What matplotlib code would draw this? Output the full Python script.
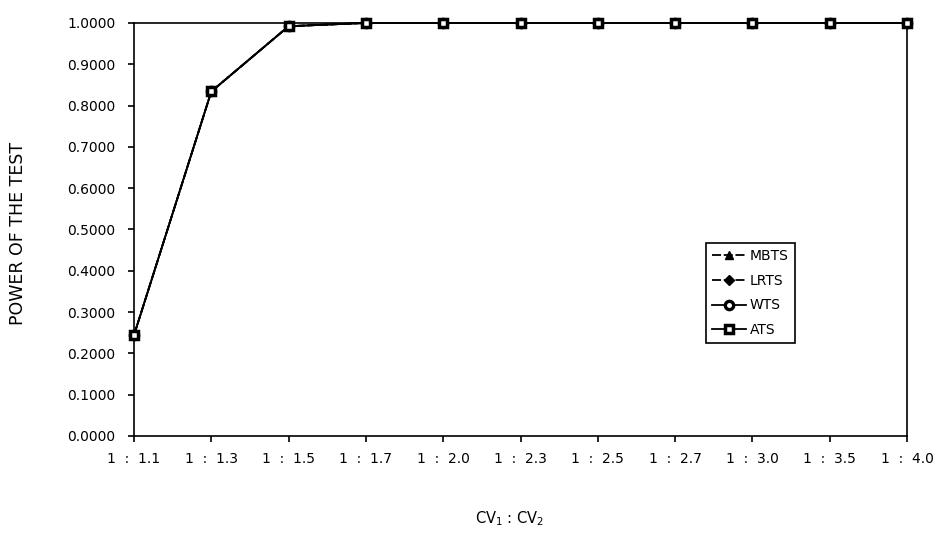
import matplotlib
matplotlib.use("Agg")
import matplotlib.pyplot as plt

plt.rcParams['font.family'] = ['DejaVu Sans']

ratios = ["1  :  1.1", "1  :  1.3", "1  :  1.5", "1  :  1.7", "1  :  2.0", "1  :  2.3",
          "1  :  2.5", "1  :  2.7", "1  :  3.0", "1  :  3.5", "1  :  4.0"]
mbts = [0.2440, 0.8340, 0.9920, 1.0000, 1.0000, 1.0000, 1.0000, 1.0000, 1.0000, 1.0000, 1.0000]
lrts = [0.2440, 0.8340, 0.9920, 1.0000, 1.0000, 1.0000, 1.0000, 1.0000, 1.0000, 1.0000, 1.0000]
wts = [0.2440, 0.8340, 0.9920, 1.0000, 1.0000, 1.0000, 1.0000, 1.0000, 1.0000, 1.0000, 1.0000]
ats = [0.2440, 0.8340, 0.9920, 1.0000, 1.0000, 1.0000, 1.0000, 1.0000, 1.0000, 1.0000, 1.0000]
yticks = [0.0, 0.1, 0.2, 0.3, 0.4, 0.5, 0.6, 0.7, 0.8, 0.9, 1.0]

fig = plt.figure(figsize=(9.41, 5.46), dpi=100)
ax = fig.add_axes([0.1424, 0.2015, 0.8215, 0.7565])

x = list(range(len(ratios)))
ax.plot(x, mbts, color='black', lw=1.3, ls=(0, (5, 1.5)), marker='^', ms=6,
        mfc='black', mec='black', label='MBTS', zorder=3, clip_on=False)
ax.plot(x, lrts, color='black', lw=1.3, ls=(0, (5, 1.5)), marker='D', ms=5,
        mfc='black', mec='black', label='LRTS', zorder=4, clip_on=False)
ax.plot(x, wts, color='black', lw=1.3, marker='o', ms=6,
        mfc='white', mec='black', mew=2.4, label='WTS', zorder=5, clip_on=False)
ax.plot(x, ats, color='black', lw=1.3, marker='s', ms=6,
        mfc='white', mec='black', mew=2.5, label='ATS', zorder=6, clip_on=False)

ax.set_xlim(0, len(ratios) - 1)
ax.set_ylim(0, 1.0)
ax.set_xticks(x)
ax.set_xticklabels(ratios, fontsize=10)
ax.set_yticks(yticks)
ax.set_yticklabels([f"{v:.4f}" for v in yticks], fontsize=10)
ax.tick_params(axis='x', direction='out', length=4, width=1.2, pad=7.5)
ax.tick_params(axis='y', direction='out', length=4, width=1.2, pad=9.5)

for s in ax.spines.values():
    s.set_color('black')
    s.set_linewidth(1.2)

fig.text(18 / 941, 1 - 233 / 546, "POWER OF THE TEST", fontsize=12.5,
         rotation=90, ha='center', va='center')
fig.text(510 / 941, 1 - 519 / 546, "CV$_1$ : CV$_2$", fontsize=10.5,
         ha='center', va='center')

leg = ax.legend(loc='upper left', bbox_to_anchor=(0.74, 0.467), borderaxespad=0,
                fontsize=10, frameon=True, fancybox=False, edgecolor='black',
                framealpha=1, handlelength=2.4, handletextpad=0.3,
                borderpad=0.45, labelspacing=0.76)
leg.get_frame().set_linewidth(1.2)

fig.savefig("out.png", dpi=100)
